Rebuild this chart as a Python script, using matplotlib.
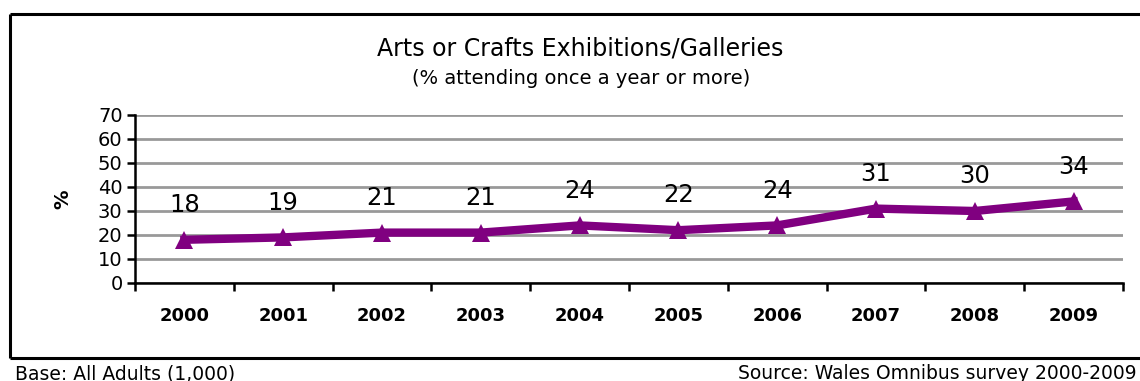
import matplotlib
matplotlib.use("Agg")
import matplotlib.pyplot as plt
from matplotlib.lines import Line2D

years = ["2000", "2001", "2002", "2003", "2004", "2005", "2006", "2007", "2008", "2009"]
attending = [18, 19, 21, 21, 24, 22, 24, 31, 30, 34]
y_ticks = [0, 10, 20, 30, 40, 50, 60, 70]

plt.rcParams["font.family"] = ["DejaVu Sans"]

W, H = 1140, 381
fig = plt.figure(figsize=(W / 100, H / 100), dpi=100)

# outer frame (open on the right)
frame_kw = dict(color="black", lw=2.2, transform=fig.transFigure, solid_capstyle="butt")
fig.add_artist(Line2D([10 / W, 1.0], [1 - 14 / H, 1 - 14 / H], **frame_kw))
fig.add_artist(Line2D([10 / W, 1.0], [1 - 358 / H, 1 - 358 / H], **frame_kw))
fig.add_artist(Line2D([10 / W, 10 / W], [1 - 14 / H, 1 - 358 / H], **frame_kw))

ax = fig.add_axes([135 / W, 1 - 283 / H, (1123 - 135) / W, (283 - 115) / H])

x = [i + 0.5 for i in range(len(years))]
ax.plot(x, attending, color="#800080", lw=6, marker="^", markersize=13,
        markeredgewidth=0, clip_on=False, zorder=3)

for xi, v in zip(x, attending):
    ax.annotate(str(v), (xi, v), xytext=(0, 25), textcoords="offset points",
                ha="center", va="center", fontsize=17.5, color="black")

ax.set_xlim(0, len(years))
ax.set_ylim(0, 70)
ax.set_yticks(y_ticks)
ax.set_yticklabels([str(t) for t in y_ticks], fontsize=14)
ax.set_xticks(range(len(years) + 1))
ax.set_xticklabels([])
ax.set_xticks(x, minor=True)
ax.set_xticklabels(years, minor=True, fontsize=13, fontweight="bold")
ax.tick_params(axis="x", which="minor", length=0, pad=17)
ax.tick_params(axis="x", which="major", length=6, width=1.8, direction="out")
ax.tick_params(axis="y", length=6, width=1.8, direction="out", pad=3)

ax.grid(axis="y", color="#999999", lw=2)
ax.set_axisbelow(True)
for s in ("top", "right"):
    ax.spines[s].set_visible(False)
ax.spines["left"].set_linewidth(1.8)
ax.spines["bottom"].set_linewidth(1.8)

ax.set_ylabel("%", fontsize=14, fontweight="bold", labelpad=18)

fig.text(580 / W, 1 - 48 / H, "Arts or Crafts Exhibitions/Galleries",
         ha="center", va="center", fontsize=17)
fig.text(581 / W, 1 - 79 / H, "(% attending once a year or more)",
         ha="center", va="center", fontsize=14)

fig.text(15 / W, 1 - 364 / H, "Base: All Adults (1,000)", ha="left", va="top", fontsize=13.5)
fig.text(1137 / W, 1 - 364 / H, "Source: Wales Omnibus survey 2000-2009",
         ha="right", va="top", fontsize=13.5)

fig.savefig("out.png", dpi=100)
